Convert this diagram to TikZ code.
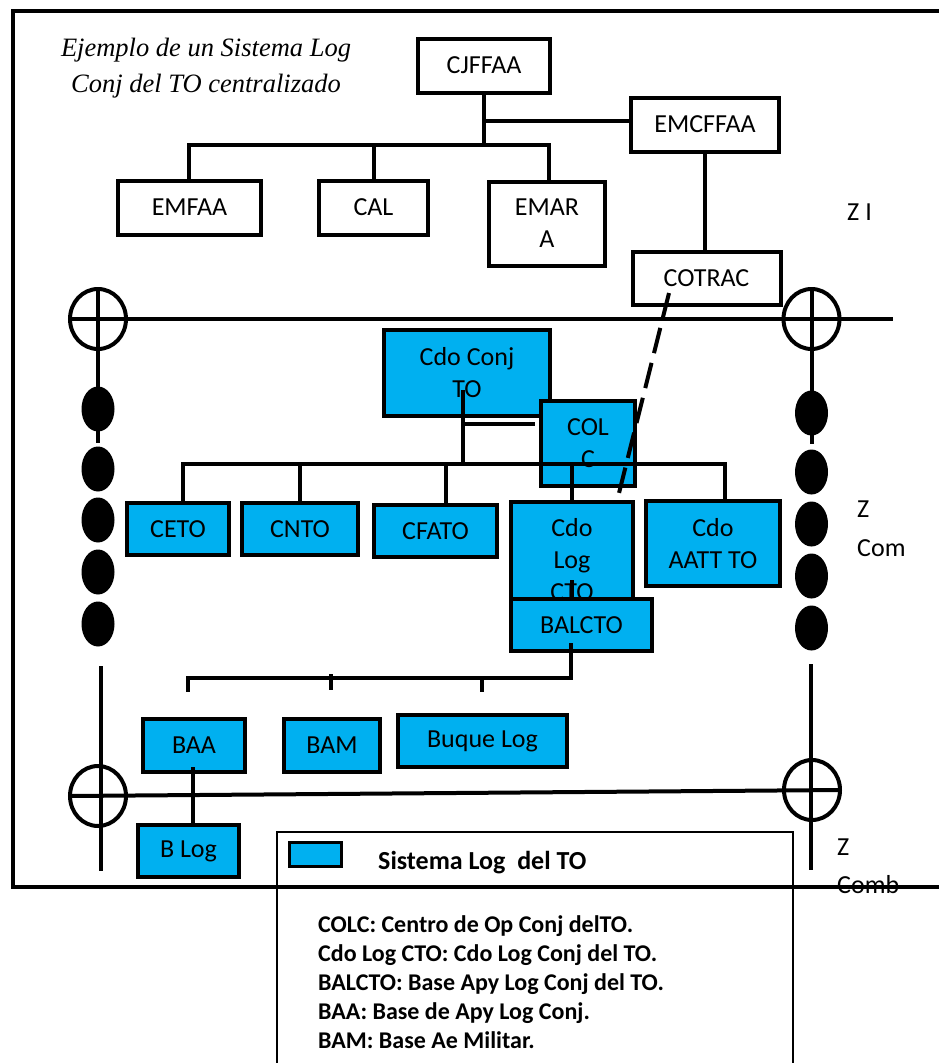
\documentclass[tikz,border=0pt]{standalone}
\usepackage{fontspec}
\setmainfont{Carlito}
\newfontfamily\tnrfont{Liberation Serif}
\usetikzlibrary{shapes.geometric,calc}
\definecolor{skyb}{HTML}{00B0F0}
\newcommand{\bxfont}{\fontsize{26}{32}\selectfont}
\newcommand{\lgfont}{\fontsize{24}{29}\selectfont\bfseries}
\begin{document}
\begin{tikzpicture}[x=1pt,y=-1pt,
  wbox/.style={draw, line width=4pt, fill=white, inner sep=0pt, outer sep=0pt, align=center, font=\bxfont},
  bbox/.style={wbox, fill=skyb},
  conn/.style={line width=4pt},
  frameline/.style={line width=4.5pt},
  dashline/.style={line width=4pt, dash pattern=on 26pt off 10pt},
  zring/.style={draw, ellipse, line width=4pt, minimum width=56pt, minimum height=60pt, inner sep=0pt, outer sep=0pt},
  zdot/.style={ellipse, fill=black, minimum width=33pt, minimum height=45pt, inner sep=0pt},
  lbl/.style={font=\bxfont, inner sep=0pt, anchor=base west},
  lgent/.style={font=\lgfont, inner sep=0pt, anchor=base west}]
\useasboundingbox (0,0) rectangle (939,1063);

% outer frame
\coordinate (f1) at (939,11);
\coordinate (f2) at (13,11);
\coordinate (f3) at (13,887);
\coordinate (f4) at (939,887);
\draw[frameline] (f1) -- (f2) -- (f3) -- (f4);

% title
\node[font=\tnrfont\itshape\fontsize{26.5}{36}\selectfont, align=center] (title) at (206,68) {Ejemplo de un Sistema Log\\Conj del TO centralizado};

% upper (white) boxes
\node[wbox, minimum width=132pt, minimum height=54pt] (cjffaa) at (484,65.5) {CJFFAA};
\node[wbox, minimum width=148pt, minimum height=54pt] (emcffaa) at (705,124.5) {EMCFFAA};
\node[wbox, minimum width=143pt, minimum height=54pt] (emfaa) at (189.5,207.5) {EMFAA};
\node[wbox, minimum width=109pt, minimum height=54pt] (cal) at (373.5,207.5) {CAL};
\node[wbox, minimum width=116pt, minimum height=84pt] (emara) at (547,223.5) {EMAR\\A};
\node[wbox, minimum width=148pt, minimum height=53pt] (cotrac) at (706.5,278) {COTRAC};

\coordinate (cjb) at (484,145);
\coordinate (cjm) at (484,121);
\coordinate (tbL) at (189,145);
\coordinate (tbR) at (549,145);
\draw[conn] (cjffaa.south) -- (cjb);
\draw[conn] (cjm) -- (emcffaa.west |- cjm);
\draw[conn] (tbL |- emfaa.north) -- (tbL) -- (tbR) -- (tbR |- emara.north);
\draw[conn] (cal.north) -- (cal.north |- tbL);
\draw[conn] (emcffaa.south) -- (emcffaa.south |- cotrac.north);

% zone label
\node[lbl] (zi) at (847,220) {Z I};

% zone rings and lines
\node[zring] (r1) at (98,319) {};
\node[zring] (r2) at (811.5,319) {};
\node[zring] (r3) at (98,796) {};
\node[zring] (r4) at (812,790) {};
\coordinate (zr) at (893,319);
\draw[conn] (r1.west) -- (zr);
\coordinate (lv1) at (98,443);
\coordinate (rv1) at (811.5,444);
\draw[conn] (r1.north) -- (lv1);
\draw[conn] (r2.north) -- (rv1);
\coordinate (lv2) at (101,666);
\coordinate (lv3) at (101,871);
\coordinate (rv2) at (811,664);
\coordinate (rv3) at (811,870);
\draw[conn] (lv2) -- (lv3);
\draw[conn] (rv2) -- (rv3);
\draw[conn] (r3.west) -- (r4.east);

% dots
\foreach \yy [count=\i] in {409,469,520,572,624} {
  \node[zdot] (ld\i) at (98,\yy) {};
}
\foreach \yy [count=\i] in {413,472,524,576,628} {
  \node[zdot] (rd\i) at (811.5,\yy) {};
}

\node[lbl] (zc1) at (857,517) {Z};
\node[lbl] (zc2) at (857,556) {Com};
\node[lbl] (zb1) at (837,855) {Z};
\node[lbl] (zb2) at (837,893) {Comb};

% blue boxes
\node[bbox, minimum width=166pt, minimum height=86pt] (cdoconj) at (467,373) {Cdo Conj\\TO};
\node[bbox, minimum width=94pt, minimum height=85pt] (colc) at (588,443.5) {COL\\C};
\node[bbox, minimum width=102pt, minimum height=52pt] (ceto) at (178,529) {CETO};
\node[bbox, minimum width=116pt, minimum height=52pt] (cnto) at (300,529) {CNTO};
\node[bbox, minimum width=123pt, minimum height=52pt] (cfato) at (435.5,531) {CFATO};
\node[bbox, minimum width=122pt, minimum height=116pt] (cdolog) at (572,560) {Cdo\\Log\\CTO};
\node[bbox, minimum width=134pt, minimum height=85pt] (cdoaatt) at (713,543.5) {Cdo\\AATT TO};
\node[bbox, minimum width=141pt, minimum height=52pt] (balcto) at (581.5,625) {BALCTO};
\node[bbox, minimum width=102pt, minimum height=53pt] (baa) at (194,745.5) {BAA};
\node[bbox, minimum width=96pt, minimum height=53pt] (bam) at (332,745.5) {BAM};
\node[bbox, minimum width=169pt, minimum height=52pt] (buque) at (482.5,741) {Buque Log};
\node[bbox, minimum width=101pt, minimum height=52pt] (blog) at (188.5,851) {B Log};

% connectors of the blue system
\coordinate (cc1) at (463,390);
\coordinate (cc2) at (463,424);
\coordinate (cc3) at (535,424);
\coordinate (bL) at (183,464);
\coordinate (bR) at (725,464);
\coordinate (d3) at (446,464);
\draw[conn] (cc1) -- (cc1 |- bL);
\draw[conn] (cc2) -- (cc3);
\draw[conn] (bL |- ceto.north) -- (bL) -- (bR) -- (bR |- cdoaatt.north);
\draw[conn] (cnto.north) -- (cnto.north |- bL);
\draw[conn] (d3) -- (d3 |- cfato.north);
\draw[conn] (cdolog.north) -- (cdolog.north |- bL);

\coordinate (cl1) at (572,580);
\draw[conn] (cl1) -- (cl1 |- balcto.north);

\coordinate (bc1) at (571,643);
\coordinate (lbR) at (571,678);
\coordinate (lbL) at (188,678);
\coordinate (dA) at (188,692);
\coordinate (dM1) at (331,674);
\coordinate (dM) at (331,690);
\coordinate (dB1) at (482,678);
\coordinate (dB) at (482,692);
\draw[conn] (bc1) -- (lbR) -- (lbL) -- (dA);
\draw[conn] (dM1) -- (dM);
\draw[conn] (dB1) -- (dB);

\coordinate (ba1) at (193,767);
\draw[conn] (ba1) -- (ba1 |- blog.north);

% dashed link COTRAC - Cdo Log
\coordinate (ds1) at (669,293);
\coordinate (ds2) at (618,497);
\draw[dashline] (ds1) -- (ds2);

% legend
\coordinate (lg1) at (277,1063);
\coordinate (lg2) at (793,832);
\coordinate (lg3) at (793,1063);
\draw[line width=2pt] (lg1) |- (lg2) -- (lg3);
\node[draw, line width=3pt, fill=skyb, minimum width=52pt, minimum height=24pt, inner sep=0pt] (sw) at (315.5,854.5) {};
\node[font=\fontsize{26}{30}\selectfont\bfseries, inner sep=0pt, anchor=base west] (lgt) at (378,869) {Sistema Log\ \ del TO};
\node[lgent] (l1) at (318,932) {COLC: Centro de Op Conj delTO.};
\node[lgent] (l2) at (318,961) {Cdo Log CTO: Cdo Log Conj del TO.};
\node[lgent] (l3) at (318,990) {BALCTO: Base Apy Log Conj del TO.};
\node[lgent] (l4) at (318,1019) {BAA: Base de Apy Log Conj.};
\node[lgent] (l5) at (318,1048) {BAM: Base Ae Militar.};
\end{tikzpicture}
\end{document}
